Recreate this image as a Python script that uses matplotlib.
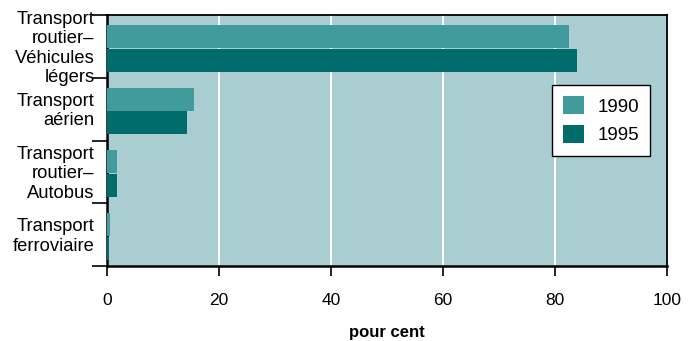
import matplotlib
matplotlib.use("Agg")
from matplotlib import pyplot as plt
from matplotlib.patches import Patch
import numpy as np

# data (share, pour cent)
categories = ["Transport\nroutier\u2013\nV\u00e9hicules\nl\u00e9gers",
              "Transport\na\u00e9rien",
              "Transport\nroutier\u2013\nAutobus",
              "Transport\nferroviaire"]
years = ["1990", "1995"]
values_1990 = [82.5, 15.5, 1.8, 0.5]
values_1995 = [84.0, 14.3, 1.8, 0.35]
x_ticks = [0, 20, 40, 60, 80, 100]

col_1990 = "#419a9c"
col_1995 = "#006c6c"
bg = "#a9cdd1"

plt.rcParams['font.family'] = ['Liberation Sans', 'DejaVu Sans']

fig = plt.figure(figsize=(6.94, 3.41), dpi=100)
ax = fig.add_axes([0.1542, 0.2199, 0.8069, 0.7361])
ax.set_facecolor(bg)

ypos = np.arange(len(categories))
h = 0.365
off = 0.19

ax.barh(ypos - off, values_1990, height=h, color=col_1990, zorder=3)
ax.barh(ypos + off, values_1995, height=h, color=col_1995, zorder=3)

ax.set_xlim(0, 100)
ax.set_ylim(3.47, -0.53)

# white vertical grid
for x in x_ticks[1:-1]:
    ax.axvline(x, color="white", lw=1.5, zorder=1)

ax.set_xticks(x_ticks)
ax.set_xticklabels([str(v) for v in x_ticks], fontsize=12.5)
ax.tick_params(axis='x', direction='out', length=7.5, width=1.2, pad=12)

# category labels at major positions, boundary ticks as minor
ax.set_yticks(ypos - 0.05)
ax.set_yticklabels(categories, fontsize=13.2, linespacing=1.2)
ax.tick_params(axis='y', which='major', length=0, pad=9)
ax.set_yticks(np.arange(-1, 4) + 0.47, minor=True)
ax.tick_params(axis='y', which='minor', direction='out', length=11, width=1.2)

for s in ax.spines.values():
    s.set_color("black")
    s.set_linewidth(1.3)
ax.spines['left'].set_linewidth(1.8)
ax.spines['bottom'].set_linewidth(1.8)

ax.set_xlabel("pour cent", fontsize=12, fontweight='bold', labelpad=12)

handles = [Patch(facecolor=col_1990), Patch(facecolor=col_1995)]
leg = ax.legend(handles, years, loc='upper left', bbox_to_anchor=(0.795, 0.721),
                fontsize=13.5, frameon=True, fancybox=False, framealpha=1,
                edgecolor='black', handlelength=1.1, handleheight=1.1,
                labelspacing=0.5, borderpad=0.6, handletextpad=0.7,
                borderaxespad=0)
leg.get_frame().set_linewidth(1.0)
leg.set_zorder(5)

fig.savefig("out.png", dpi=100)
